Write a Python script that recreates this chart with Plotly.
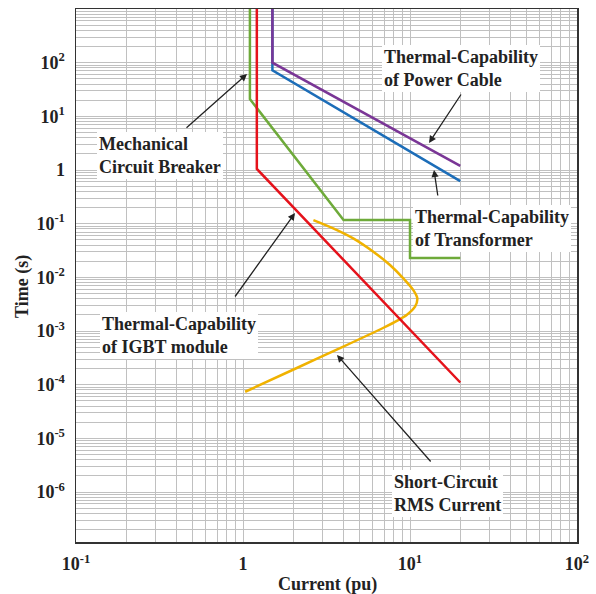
import plotly.graph_objects as go

# ---- data ----
cable_x = [1.5, 1.5, 20]
cable_y = [1000, 100, 1.2]

trafo_x = [1.5, 1.5, 20]
trafo_y = [1000, 72, 0.62]

breaker_x = [1.1, 1.1, 4.0, 10.0, 10.0, 20]
breaker_y = [1000, 21, 0.117, 0.117, 0.023, 0.023]

igbt_x = [1.21, 1.21, 20]
igbt_y = [1000, 1.05, 1.1e-4]

sc_x = [2.64, 3.47, 4.57, 6.03, 7.59, 9.12, 10.47, 11.06, 10.72, 9.55, 8.51, 6.89, 3.81, 2.10, 1.03]
sc_y = [0.117, 0.082, 0.0534, 0.0301, 0.0170, 0.0096, 0.0058, 0.00407, 0.00284, 0.00199,
        0.0016, 0.00114, 4.8e-4, 2.05e-4, 7.4e-5]

x_tickvals = [0.1, 1, 10, 100]
x_ticktext = ["10<sup>-1</sup>", "1", "10<sup>1</sup>", "10<sup>2</sup>"]
y_tickvals = [100, 10, 1, 0.1, 0.01, 1e-3, 1e-4, 1e-5, 1e-6]
y_ticktext = ["10<sup>2</sup>", "10<sup>1</sup>", "1", "10<sup>-1</sup>", "10<sup>-2</sup>",
              "10<sup>-3</sup>", "10<sup>-4</sup>", "10<sup>-5</sup>", "10<sup>-6</sup>"]

FONT = "Liberation Serif"
INK = "#222222"
W, H = 596, 594
L, R, T, B = 76, 19, 9, 52
PW, PH = W - L - R, H - T - B


def paper(px, py):
    return (px - L) / PW, (H - B - py) / PH


def bold(s):
    return "<b>" + s + "</b>"


fig = go.Figure()
lw = 2.5
fig.add_trace(go.Scatter(x=trafo_x, y=trafo_y, mode="lines", line=dict(color="#1C6DB8", width=lw)))
fig.add_trace(go.Scatter(x=cable_x, y=cable_y, mode="lines", line=dict(color="#7A3696", width=lw)))
fig.add_trace(go.Scatter(x=breaker_x, y=breaker_y, mode="lines", line=dict(color="#6EAA3A", width=lw)))
fig.add_trace(go.Scatter(x=sc_x, y=sc_y, mode="lines",
                         line=dict(color="#F0B200", width=lw, shape="spline", smoothing=0.7)))
fig.add_trace(go.Scatter(x=igbt_x, y=igbt_y, mode="lines", line=dict(color="#E5121B", width=lw)))

grid = "#c0c0c0"
common = dict(
    type="log", showgrid=True, gridcolor=grid, gridwidth=1,
    showline=True, mirror=True, linecolor="#333333", linewidth=1.5,
    ticks="", zeroline=False, automargin=False,
    tickfont=dict(family=FONT, size=18, color=INK),
    minor=dict(dtick="D1", showgrid=True, gridcolor=grid, gridwidth=1, ticks=""),
)
fig.update_xaxes(range=[-1, 2], tickmode="array", tickvals=x_tickvals,
                 ticktext=[bold(t) for t in x_ticktext], ticklabelstandoff=5, **common)
fig.update_yaxes(range=[-6.93, 3.0], tickmode="array", tickvals=y_tickvals,
                 ticktext=[bold(t) for t in y_ticktext], ticklabelstandoff=6, **common)

ann = []
# axis titles
xt, yt = paper(22, 287)
ann.append(dict(text=bold("Time (s)"), x=xt, y=yt, xref="paper", yref="paper", showarrow=False,
                textangle=-90, font=dict(family=FONT, size=18, color=INK),
                xanchor="center", yanchor="middle"))
xt, yt = paper(327, 584)
ann.append(dict(text=bold("Current (pu)"), x=xt, y=yt, xref="paper", yref="paper", showarrow=False,
                font=dict(family=FONT, size=18, color=INK), xanchor="center", yanchor="middle"))

boxes = [
    ("Mechanical<br>Circuit Breaker", 97, 132),
    ("Thermal-Capability<br>of Power Cable", 382, 45),
    ("Thermal-Capability<br>of Transformer", 413, 205),
    ("Thermal-Capability<br>of IGBT module", 100, 312),
    ("Short-Circuit<br>RMS Current", 392, 470),
]
for txt, bx, by in boxes:
    px, py = paper(bx, by)
    ann.append(dict(text="<br>".join(bold(p) for p in txt.split("<br>")), x=px, y=py,
                    xref="paper", yref="paper", showarrow=False, xanchor="left", yanchor="top",
                    align="left", bgcolor="white", borderpad=2, borderwidth=0,
                    font=dict(family=FONT, size=18, color=INK)))

arrows = [
    ((185, 129), (247, 74)),
    ((462, 93), (429, 143)),
    ((438, 197), (434, 170)),
    ((234, 298), (295, 213)),
    ((432, 463), (337, 355)),
]
for (tx, ty), (hx, hy) in arrows:
    px, py = paper(hx, hy)
    ann.append(dict(text="", x=px, y=py, xref="paper", yref="paper", showarrow=True,
                    ax=tx - hx, ay=ty - hy, arrowhead=2, arrowsize=1.1, arrowwidth=1.3,
                    arrowcolor=INK, standoff=0, startstandoff=0, font=dict(size=1)))

fig.update_layout(
    width=W, height=H, margin=dict(l=L, r=R, t=T, b=B, autoexpand=False),
    paper_bgcolor="white", plot_bgcolor="white", showlegend=False,
    annotations=ann, font=dict(family=FONT),
)
fig.write_html("out.html", config={"displayModeBar": False, "staticPlot": True},
               post_script="document.body.style.margin='0px';document.body.style.padding='0px';"
                           "document.documentElement.style.overflow='hidden';")
